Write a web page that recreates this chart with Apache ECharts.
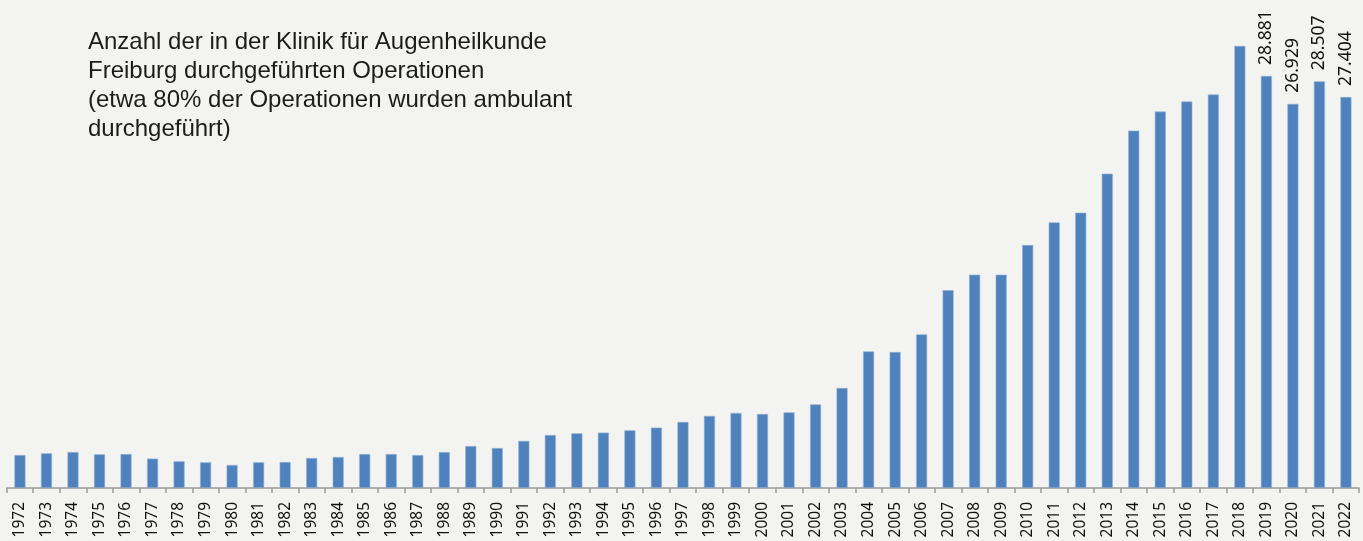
<!DOCTYPE html>
<html>
<head>
<meta charset="utf-8">
<script src="https://cdn.jsdelivr.net/npm/echarts@6/dist/echarts.min.js"></script>
<style>
  html, body { margin: 0; padding: 0; background: #f3f3f1; }
  #chart { width: 1363px; height: 541px; }
</style>
</head>
<body>
<div id="chart"></div>
<script>
let years = [];
for (let y = 1972; y <= 2022; y++) {
    years.push(String(y));
}

let operations = [
    2310, 2430, 2520, 2360, 2380, 2060, 1870, 1800, 1610, 1800,
    1820, 2100, 2170, 2380, 2380, 2310, 2520, 2940, 2800, 3300,
    3710, 3830, 3880, 4040, 4230, 4630, 5050, 5260, 5190, 5300,
    5860, 7010, 9580, 9530, 10770, 13860, 14950, 14950, 17030, 18620,
    19300, 22030, 25050, 26390, 27090, 27580, 30990, 28881, 26929, 28507,
    27404
];

// years whose bar carries a value label
let labelledYears = ['2019', '2020', '2021', '2022'];

let titleLines = [
    'Anzahl der in der Klinik für Augenheilkunde',
    'Freiburg durchgeführten Operationen',
    '(etwa 80% der Operationen wurden ambulant',
    'durchgeführt)'
];

function formatGerman(v) {
    return String(v).replace(/\B(?=(\d{3})+(?!\d))/g, '.');
}

let eChart = echarts.init(document.getElementById('chart'));

let barData = operations.map(function (v, i) {
    let item = {value: v};
    if (labelledYears.indexOf(years[i]) >= 0) {
        item.label = {show: true};
    }
    return item;
});

let option = {
    backgroundColor: '#f3f3f1',
    animation: false,
    title: {
        text: titleLines.join('\n'),
        left: 83,
        top: 23,
        textStyle: {
            fontFamily: 'Liberation Sans',
            fontSize: 24,
            fontWeight: 'normal',
            lineHeight: 29,
            color: '#1c1c1c'
        }
    },
    grid: {
        left: 6.7,
        right: 3.8,
        top: 31.5,
        bottom: 53
    },
    xAxis: {
        type: 'category',
        data: years,
        boundaryGap: true,
        axisLine: {
            lineStyle: {color: '#9a9a9a', width: 1.5}
        },
        axisTick: {
            show: true,
            alignWithLabel: false,
            length: 5,
            lineStyle: {color: '#9a9a9a', width: 1.5}
        },
        axisLabel: {
            interval: 0,
            rotate: 90,
            margin: 14,
            fontFamily: 'Noto Sans',
            fontSize: 15.5,
            color: '#111'
        }
    },
    yAxis: {
        type: 'value',
        min: 0,
        max: 32000,
        show: false,
        splitLine: {show: false}
    },
    series: [
        {
            type: 'bar',
            data: barData,
            barWidth: 11,
            itemStyle: {
                color: '#4f81bd',
                borderColor: '#8fb0d9',
                borderWidth: 0.6
            },
            label: {
                show: false,
                position: 'top',
                rotate: 90,
                align: 'left',
                verticalAlign: 'middle',
                distance: 11,
                fontFamily: 'Noto Sans',
                fontSize: 17.5,
                color: '#111',
                formatter: function (p) {
                    return formatGerman(p.value);
                }
            }
        }
    ]
};

eChart.setOption(option);
</script>
</body>
</html>
